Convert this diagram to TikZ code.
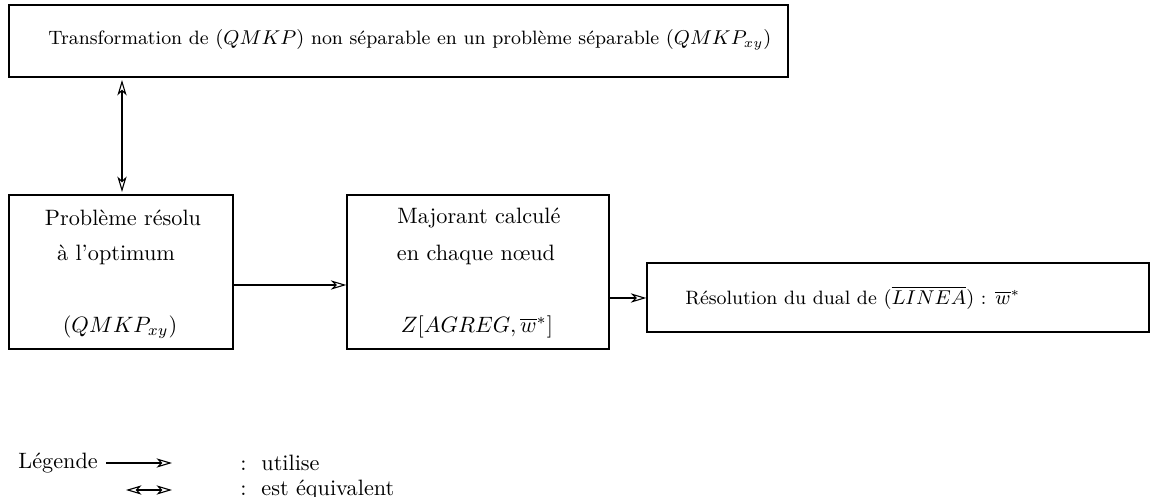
\documentclass[tikz,border=0pt]{standalone}
\usetikzlibrary{arrows.meta}
\begin{document}
\begin{tikzpicture}[x=0.45pt,y=-0.45pt,
  box/.style={draw,line width=0.6pt,rectangle,inner sep=0pt},
  txt/.style={inner sep=0pt,font=\normalsize},
  smalltxt/.style={inner sep=0pt,font=\fontsize{8.7}{10.5}\selectfont},
  tipo/.tip={Stealth[open,length=7pt,width=4.2pt,inset=2pt,line width=0.5pt]},
  uses/.style={line width=0.5pt,-tipo},
  equiv/.style={line width=0.5pt,tipo-tipo}]
\useasboundingbox (0,0) rectangle (1152,497);
% boxes
\node[box,minimum width=779*0.45pt,minimum height=72*0.45pt] (top) at (398.5,41) {};
\node[box,minimum width=224*0.45pt,minimum height=154*0.45pt] (A) at (121,272) {};
\node[box,minimum width=262*0.45pt,minimum height=154*0.45pt] (B) at (478,272) {};
\node[box,minimum width=502*0.45pt,minimum height=69*0.45pt] (C) at (898,297.5) {};
% texts
\node[smalltxt,anchor=west] (t0) at (48,40) {Transformation de $(QMKP)$ non séparable en un problème séparable $(QMKP_{xy})$};
\node[txt] (a1) at (123,218) {Problème résolu};
\node[txt] (a2) at (116,255) {à l'optimum};
\node[txt] (a3) at (120,327) {$(QMKP_{xy})$};
\node[txt] (b1) at (479,218) {Majorant calculé};
\node[txt] (b2) at (476,255) {en chaque n\oe ud};
\node[txt] (b3) at (477,327) {$Z[AGREG,\overline{w}^{*}]$};
\node[smalltxt,anchor=west] (c1) at (685,298) {Résolution du dual de $(\overline{LINEA})$ : $\overline{w}^{*}$};
% connectors
\coordinate (v1) at (122,80);
\coordinate (v2) at (122,192);
\draw[equiv] (v1) -- (v2);
\draw[uses] (A.east |- 0,285) -- (B.west |- 0,285);
\draw[uses] (B.east |- 0,298) -- (C.west |- 0,298);
% legend
\node[txt,anchor=west] (leg) at (18,463) {Légende};
\coordinate (l1a) at (106,463);
\coordinate (l1b) at (172,463);
\draw[uses] (l1a) -- (l1b);
\node[txt,anchor=west] (u) at (240,463) {:\ \ utilise};
\coordinate (l2a) at (126,490);
\coordinate (l2b) at (172,490);
\draw[equiv] (l2a) -- (l2b);
\node[txt,anchor=west] (e) at (240,490) {:\ \ est équivalent};
\end{tikzpicture}
\end{document}
